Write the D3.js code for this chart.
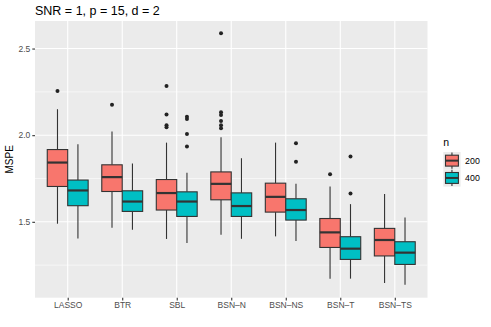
<!DOCTYPE html>
<html>
<head>
<meta charset="utf-8">
<script src="https://cdn.jsdelivr.net/npm/d3@7"></script>
<style>
  body { margin: 0; background: #fff; }
  text { font-family: "Liberation Sans", Arial, Helvetica, sans-serif; }
</style>
</head>
<body>
<div id="chart"></div>
<script>
// data
const methods = ["LASSO", "BTR", "SBL", "BSN\u2013N", "BSN\u2013NS", "BSN\u2013T", "BSN\u2013TS"]
const groups = ["200", "400"]
const colors = ["#F8766D", "#00BFC4"]

// [lower whisker, q1, median, q3, upper whisker]
const stats200 = [
  [1.489, 1.704, 1.842, 1.917, 2.150],
  [1.466, 1.675, 1.758, 1.829, 2.021],
  [1.401, 1.568, 1.666, 1.744, 1.957],
  [1.425, 1.627, 1.719, 1.788, 1.988],
  [1.416, 1.556, 1.644, 1.723, 1.957],
  [1.172, 1.352, 1.439, 1.519, 1.704],
  [1.147, 1.303, 1.395, 1.462, 1.660]
]
const stats400 = [
  [1.404, 1.593, 1.681, 1.741, 1.948],
  [1.454, 1.560, 1.617, 1.679, 1.836],
  [1.378, 1.531, 1.617, 1.673, 1.783],
  [1.402, 1.531, 1.591, 1.667, 1.867],
  [1.389, 1.510, 1.568, 1.633, 1.719],
  [1.172, 1.283, 1.345, 1.414, 1.602],
  [1.137, 1.254, 1.322, 1.385, 1.525]
]
const outliers200 = [
  [2.255],
  [2.175],
  [2.284, 2.119, 2.058, 2.046],
  [2.588, 2.133, 2.117, 2.082, 2.058, 2.040],
  [],
  [1.775],
  []
]
const outliers400 = [
  [],
  [],
  [2.107, 2.094, 2.007, 1.934],
  [],
  [1.954, 1.846],
  [1.877, 1.663],
  []
]
const yTicks = [1.5, 2.0, 2.5]
const yMinor = [1.25, 1.75, 2.25]

const W = 491, H = 327
const panel = {left: 35, right: 427.5, top: 21, bottom: 297.7}

const svg = d3.select("#chart").append("svg")
  .attr("width", W).attr("height", H)

const x = d3.scalePoint().domain(methods).range([panel.left, panel.right]).padding(0.6)
const y = d3.scaleLinear().domain([1.062, 2.659]).range([panel.bottom, panel.top])
const step = x.step()
const dodge = d3.scaleBand().domain(groups).range([-0.375 * step, 0.375 * step])
const boxW = dodge.bandwidth()

// panel background + grid
svg.append("rect").attr("x", panel.left).attr("y", panel.top)
  .attr("width", panel.right - panel.left).attr("height", panel.bottom - panel.top)
  .style("fill", "#EBEBEB")

svg.selectAll(".minor").data(yMinor).join("line")
  .attr("x1", panel.left).attr("x2", panel.right)
  .attr("y1", d => y(d)).attr("y2", d => y(d))
  .style("stroke", "#fff").style("stroke-width", 0.55)
svg.selectAll(".majorY").data(yTicks).join("line")
  .attr("x1", panel.left).attr("x2", panel.right)
  .attr("y1", d => y(d)).attr("y2", d => y(d))
  .style("stroke", "#fff").style("stroke-width", 1.1)
svg.selectAll(".majorX").data(methods).join("line")
  .attr("x1", d => x(d)).attr("x2", d => x(d))
  .attr("y1", panel.top).attr("y2", panel.bottom)
  .style("stroke", "#fff").style("stroke-width", 1.1)

// axes
const yAxis = svg.append("g").attr("transform", `translate(${panel.left},0)`)
  .call(d3.axisLeft(y).tickValues(yTicks).tickFormat(d3.format(".1f")).tickSize(2.7).tickPadding(2))
const xAxis = svg.append("g").attr("transform", `translate(0,${panel.bottom})`)
  .call(d3.axisBottom(x).tickSize(2.7).tickPadding(2))
for (const ax of [xAxis, yAxis]) {
  ax.select(".domain").remove()
  ax.selectAll(".tick line").style("stroke", "#333").style("stroke-width", 1.1)
  ax.selectAll(".tick text").style("fill", "#4D4D4D").style("font-size", "8.5px")
    .style("font-family", "'Liberation Sans', Arial, sans-serif")
}

// boxes
const layers = [
  {g: "200", stats: stats200, out: outliers200, color: colors[0]},
  {g: "400", stats: stats400, out: outliers400, color: colors[1]}
]
const lineCol = "#333333"
layers.forEach(L => {
  const rows = methods.map((m, i) => ({m, s: L.stats[i], out: L.out[i], cx: x(m) + dodge(L.g) + boxW / 2}))
  const g = svg.append("g")
  // whiskers
  g.selectAll(".wu").data(rows).join("line")
    .attr("x1", d => d.cx).attr("x2", d => d.cx)
    .attr("y1", d => y(d.s[3])).attr("y2", d => y(d.s[4]))
    .style("stroke", lineCol).style("stroke-width", 1.1)
  g.selectAll(".wl").data(rows).join("line")
    .attr("x1", d => d.cx).attr("x2", d => d.cx)
    .attr("y1", d => y(d.s[1])).attr("y2", d => y(d.s[0]))
    .style("stroke", lineCol).style("stroke-width", 1.1)
  // box
  g.selectAll("rect").data(rows).join("rect")
    .attr("x", d => d.cx - boxW / 2).attr("width", boxW)
    .attr("y", d => y(d.s[3])).attr("height", d => y(d.s[1]) - y(d.s[3]))
    .style("fill", L.color).style("stroke", lineCol).style("stroke-width", 1.1)
  // median
  g.selectAll(".med").data(rows).join("line")
    .attr("x1", d => d.cx - boxW / 2).attr("x2", d => d.cx + boxW / 2)
    .attr("y1", d => y(d.s[2])).attr("y2", d => y(d.s[2]))
    .style("stroke", lineCol).style("stroke-width", 2.2)
  // outliers
  const pts = rows.flatMap(d => d.out.map(v => ({cx: d.cx, v})))
  g.selectAll("circle").data(pts).join("circle")
    .attr("cx", d => d.cx).attr("cy", d => y(d.v)).attr("r", 2)
    .style("fill", "#222")
})

// title + axis title
svg.append("text").attr("x", panel.left).attr("y", 14.5)
  .text("SNR = 1, p = 15, d = 2").style("font-size", "12.5px").style("fill", "#000")
svg.append("text")
  .attr("transform", `translate(13,${(panel.top + panel.bottom) / 2}) rotate(-90)`)
  .attr("text-anchor", "middle")
  .text("MSPE").style("font-size", "10px").style("fill", "#000")

// legend
const leg = svg.append("g").attr("transform", "translate(443.3,0)")
leg.append("text").attr("x", 0).attr("y", 146).text("n").style("font-size", "10.5px")
const keyH = 17.3
groups.forEach((grp, i) => {
  const ky = 152 + i * keyH
  leg.append("rect").attr("x", 0).attr("y", ky).attr("width", keyH).attr("height", keyH)
    .style("fill", "#EBEBEB")
  const cx = keyH / 2
  leg.append("line").attr("x1", cx).attr("x2", cx).attr("y1", ky + 0.5).attr("y2", ky + keyH - 0.5)
    .style("stroke", lineCol).style("stroke-width", 1.1)
  leg.append("rect").attr("x", 2.2).attr("y", ky + 3.2).attr("width", keyH - 4.4).attr("height", keyH - 6.4)
    .style("fill", colors[i]).style("stroke", lineCol).style("stroke-width", 1.1)
  leg.append("line").attr("x1", 2.2).attr("x2", keyH - 2.2).attr("y1", ky + keyH / 2).attr("y2", ky + keyH / 2)
    .style("stroke", lineCol).style("stroke-width", 2)
  leg.append("text").attr("x", keyH + 4.5).attr("y", ky + keyH / 2 + 3.2)
    .text(grp).style("font-size", "8.8px").style("fill", "#000")
})
</script>
</body>
</html>
